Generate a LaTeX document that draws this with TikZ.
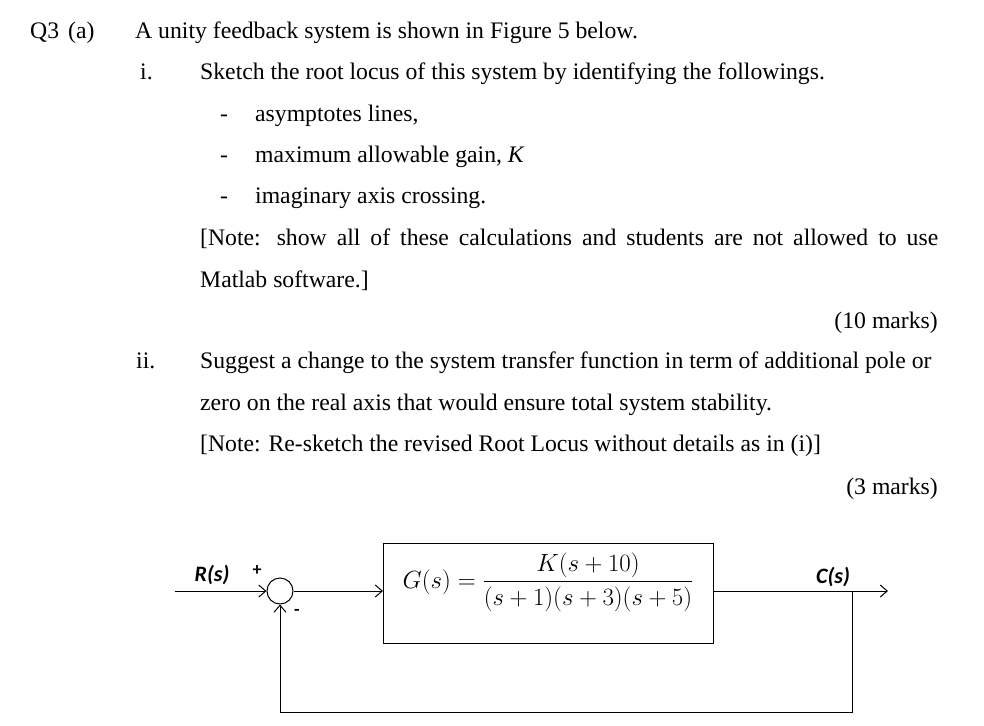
\documentclass[tikz,border=0pt]{standalone}
\usepackage{fontspec}
\usepackage{amsmath}
\setmainfont{Liberation Serif}
\newfontfamily\lab{Carlito}
\usetikzlibrary{arrows.meta}
\begin{document}
\begin{tikzpicture}[x=1pt,y=-1pt,
  txt/.style={anchor=base west,inner sep=0pt,font=\fontsize{23.7}{28}\selectfont},
  sig/.style={font=\lab\bfseries\itshape\fontsize{22}{24}\selectfont,inner sep=0pt},
  pm/.style={font=\lab\bfseries\fontsize{18}{20}\selectfont,inner sep=0pt},
  conn/.style={line width=1pt,-{Straight Barb[length=7pt,width=12pt]}},
  wire/.style={line width=1pt}]
\useasboundingbox (0,0) rectangle (984,725);
\node[txt] (q) at (30,38) {Q3};
\node[txt] (a) at (68,38) {(a)};
\node[txt] (l1) at (135,38) {A unity feedback system is shown in Figure 5 below.};
\node[txt] (i) at (140,79) {i.};
\node[txt] (l2) at (200,79) {Sketch the root locus of this system by identifying the followings.};
\node[txt] (d1) at (220,121) {-};
\node[txt] (b1) at (255,121) {asymptotes lines,};
\node[txt] (d2) at (220,162) {-};
\node[txt] (b2) at (255,162) {maximum allowable gain, \textit{K}};
\node[txt] (d3) at (220,203) {-};
\node[txt] (b3) at (255,203) {imaginary axis crossing.};
\node[txt] (n1) at (200,245) {\makebox[738pt][s]{[Note: show all of these calculations and students are not allowed to use}};
\node[txt] (n2) at (200,287) {Matlab software.]};
\node[txt,anchor=base east] (m1) at (938,328) {(10 marks)};
\node[txt] (ii) at (136,368) {ii.};
\node[txt] (s1) at (200,368) {Suggest a change to the system transfer function in term of additional pole or};
\node[txt] (s2) at (200,410) {zero on the real axis that would ensure total system stability.};
\node[txt] (s3) at (200,451) {[Note: Re-sketch the revised Root Locus without details as in (i)]};
\node[txt,anchor=base east] (m2) at (938,494) {(3 marks)};
% diagram
\coordinate (in) at (175,591);
\node[circle,draw,line width=1pt,minimum size=26pt,inner sep=0pt] (sum) at (280,591) {};
\node[draw,line width=1pt,minimum width=330pt,minimum height=100pt,anchor=north west] (G) at (383,543) {};
\node[font=\fontsize{23}{25}\selectfont,inner sep=0pt] (Gt) at (548,582) {$G(s)=\dfrac{K(s+10)}{(s+1)(s+3)(s+5)}$};
\coordinate (bi) at (383,591);
\coordinate (bo) at (713,591);
\coordinate (br) at (852,591);
\coordinate (out) at (888,591);
\coordinate (fb1) at (852,712);
\coordinate (fb2) at (280,712);
\draw[conn] (in) -- (sum.west);
\draw[conn] (sum.east) -- (bi);
\draw[wire] (bo) -- (br);
\draw[conn] (br) -- (out);
\draw[conn] (br) -- (fb1) -- (fb2) -- (sum.south);
\node[sig] (R) at (212,575) {R(s)};
\node[sig] (C) at (833,577) {C(s)};
\node[pm] (p) at (257,571) {+};
\node[pm] (m) at (297,612) {-};
\end{tikzpicture}
\end{document}
